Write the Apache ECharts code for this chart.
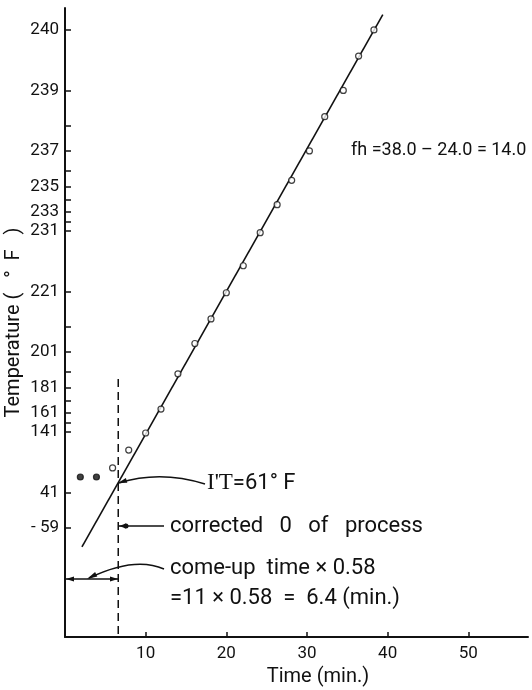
<!DOCTYPE html>
<html>
<head>
<meta charset="utf-8">
<script src="https://cdn.jsdelivr.net/npm/echarts@6/dist/echarts.min.js"></script>
<style>
html,body{margin:0;padding:0;background:#fff;}
#c{width:532px;height:690px;}
</style>
</head>
<body>
<div id="c"></div>
<script>
// ---- data ----
const RT = 241; // retort temperature (°F); y axis is log(RT - T), inverted
const times = [1.9, 3.9, 5.9, 7.9, 10, 11.9, 14, 16.1, 18.1, 20, 22.1, 24.2, 26.3, 28.1, 30.3, 32.2, 34.5, 36.4, 38.3];
const temps = [73.5, 73.5, 90, 118, 139.8, 164.1, 189.6, 204.7, 213.6, 220.7, 226.1, 230.8, 233.6, 235.4, 237.0, 238.3, 239.0, 239.65, 240.0];
const filledCount = 2; // first two readings drawn as solid dots
const fitTimes = [2.1, 39.4];
const fitTemps = [-132.3, 240.16];
const tickLabelTemps = [240, 239, 237, 235, 233, 231, 221, 201, 181, 161, 141, 41, -59];
const minorTickTemps = [238, 236, 234, 232, 211, 191, 171, 151];
const xTickValues = [10, 20, 30, 40, 50];
const correctedZero = 6.6;   // min (dashed line)
const dashTopTemp = 186.5;
const comeUpTemp = -297.6;   // level of the come-up bar

const yv = T => Math.log10(RT - T);
const Y_MIN = -0.109, Y_MAX = 3.02;
const INK = '#111';
const FONT = 'Roboto, "Liberation Sans", sans-serif';

const chart = echarts.init(document.getElementById('c'), null, {renderer: 'canvas'});

const pts = times.map((t, i) => {
  const d = {value: [t, yv(temps[i])]};
  if (i < filledCount) d.itemStyle = {color: INK, borderColor: INK};
  return d;
});

chart.setOption({
  animation: false,
  backgroundColor: '#fff',
  grid: {left: 65, right: 4, top: 8, bottom: 53, outerBoundsMode: 'none'},
  xAxis: {
    type: 'value', min: 0, max: 57.4,
    axisLine: {show: true, onZero: false, lineStyle: {color: INK, width: 2}},
    axisTick: {show: true, inside: true, length: 5, customValues: xTickValues, lineStyle: {color: INK, width: 1.5}},
    axisLabel: {customValues: xTickValues, margin: 8, fontSize: 17, color: INK, fontFamily: FONT},
    splitLine: {show: false}
  },
  yAxis: {
    type: 'value', inverse: true, min: Y_MIN, max: Y_MAX,
    name: 'Temperature (   °  F   )', nameLocation: 'middle', nameGap: 41, nameMoveOverlap: false,
    nameTextStyle: {fontSize: 20, color: INK, fontFamily: FONT},
    axisLine: {show: true, onZero: false, lineStyle: {color: INK, width: 2}},
    axisTick: {show: true, inside: true, length: 6,
      customValues: tickLabelTemps.concat(minorTickTemps).map(yv),
      lineStyle: {color: INK, width: 1.5}},
    axisLabel: {
      customValues: tickLabelTemps.map(yv), margin: 6, fontSize: 17, color: INK, fontFamily: FONT,
      formatter: v => {
        const T = Math.round(RT - Math.pow(10, v));
        return T < 0 ? '- ' + Math.abs(T) : String(T);
      }
    },
    splitLine: {show: false}
  },
  series: [
    {
      type: 'line', data: fitTimes.map((t, i) => [t, yv(fitTemps[i])]),
      showSymbol: false, lineStyle: {color: INK, width: 1.6}, silent: true, z: 2
    },
    {
      type: 'line', data: [[correctedZero, yv(dashTopTemp)], [correctedZero, Y_MAX]],
      showSymbol: false, lineStyle: {color: INK, width: 1.5, type: [8, 5]}, silent: true, z: 2
    },
    {
      type: 'line', data: [[0, yv(comeUpTemp)], [correctedZero, yv(comeUpTemp)]],
      showSymbol: false, lineStyle: {color: INK, width: 1.5}, silent: true, z: 2
    },
    {
      type: 'scatter', data: pts, symbol: 'circle', symbolSize: 6,
      itemStyle: {color: '#fff', borderColor: INK, borderWidth: 1.2}, z: 3
    }
  ],
  graphic: [
    {type: 'text', x: 351, y: 150, z: 10,
      style: {text: 'fh =38.0 – 24.0 = 14.0', fontSize: 18, fontFamily: FONT, fill: INK, verticalAlign: 'middle'}},
    {type: 'text', x: 207, y: 483, z: 10,
      style: {text: "{s|I'T}{n|=61° F}", verticalAlign: 'middle', fill: INK,
        rich: {s: {fontSize: 23, fontFamily: '"Liberation Serif", serif', fill: INK},
               n: {fontSize: 22, fontFamily: FONT, fill: INK}}}},
    {type: 'text', x: 170, y: 526, z: 10,
      style: {text: 'corrected   0   of   process', fontSize: 22, fontFamily: FONT, fill: INK, verticalAlign: 'middle'}},
    {type: 'text', x: 170, y: 568, z: 10,
      style: {text: 'come-up  time × 0.58', fontSize: 22, fontFamily: FONT, fill: INK, verticalAlign: 'middle'}},
    {type: 'text', x: 170, y: 598, z: 10,
      style: {text: '=11 × 0.58  =  6.4 (min.)', fontSize: 22, fontFamily: FONT, fill: INK, verticalAlign: 'middle'}},
    {type: 'text', x: 318, y: 677, z: 10,
      style: {text: 'Time (min.)', fontSize: 20, fontFamily: FONT, fill: INK, align: 'center', verticalAlign: 'middle'}},
    // leader for I'T
    {type: 'bezierCurve', z: 10, shape: {x1: 119, y1: 483, x2: 205, y2: 484, cpx1: 160, cpy1: 470},
      style: {stroke: INK, lineWidth: 1.5, fill: null}},
    {type: 'polygon', z: 10, shape: {points: [[118, 483], [127.3, 482.7], [125.9, 477.9]]}, style: {fill: INK}},
    // leader for corrected 0
    {type: 'line', z: 10, shape: {x1: 119, y1: 526, x2: 164, y2: 526}, style: {stroke: INK, lineWidth: 1.5}},
    {type: 'circle', z: 10, shape: {cx: 126, cy: 526, r: 2.5}, style: {fill: INK}},
    {type: 'polygon', z: 10, shape: {points: [[119, 526], [126, 523.5], [126, 528.5]]}, style: {fill: INK}},
    // come-up bar arrows
    {type: 'polygon', z: 10, shape: {points: [[66, 579], [74, 576.5], [74, 581.5]]}, style: {fill: INK}},
    {type: 'polygon', z: 10, shape: {points: [[118, 579], [110, 576.5], [110, 581.5]]}, style: {fill: INK}},
    // leader for come-up
    {type: 'bezierCurve', z: 10, shape: {x1: 89, y1: 578, x2: 164, y2: 569, cpx1: 135, cpy1: 556},
      style: {stroke: INK, lineWidth: 1.5, fill: null}},
    {type: 'polygon', z: 10, shape: {points: [[87, 579], [97.3, 576.5], [95.1, 571.9]]}, style: {fill: INK}}
  ]
});
</script>
</body>
</html>
